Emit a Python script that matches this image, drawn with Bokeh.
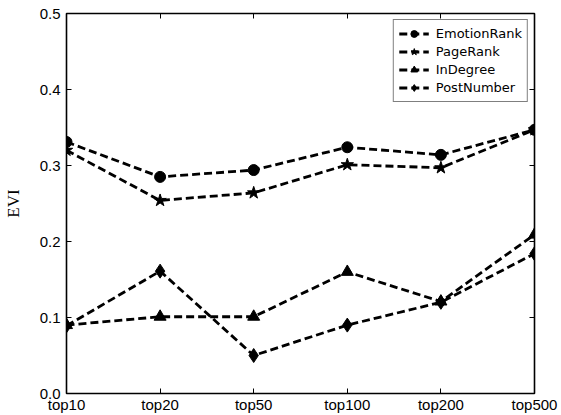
from bokeh.plotting import figure
from bokeh.models import Range1d, FixedTicker, LinearAxis, PrintfTickFormatter, Legend, LegendItem
from bokeh.embed import file_html
from bokeh.resources import INLINE

categories = ["top10", "top20", "top50", "top100", "top200", "top500"]
emotion_rank = [0.331, 0.285, 0.294, 0.324, 0.314, 0.347]
page_rank = [0.320, 0.254, 0.264, 0.301, 0.297, 0.347]
in_degree = [0.090, 0.101, 0.101, 0.160, 0.121, 0.209]
post_number = [0.089, 0.161, 0.050, 0.090, 0.120, 0.184]
y_ticks = [0.0, 0.1, 0.2, 0.3, 0.4, 0.5]

xs = list(range(len(categories)))

p = figure(width=561, height=415, output_backend="svg", toolbar_location=None,
           x_range=Range1d(0, len(categories) - 1), y_range=Range1d(0, 0.5),
           min_border_left=64, min_border_right=27, min_border_top=13, min_border_bottom=21,
           x_axis_location=None, y_axis_location=None)
p.grid.visible = False
p.outline_line_color = "black"
p.outline_line_width = 1.6
p.outline_line_alpha = 1.0
p.background_fill_color = "white"
p.border_fill_color = "white"

def make_axis(ticks, labels=True):
    ax = LinearAxis()
    ax.ticker = FixedTicker(ticks=ticks)
    ax.axis_line_color = None
    ax.major_tick_in = 5
    ax.major_tick_out = 0
    ax.minor_tick_line_color = None
    ax.major_tick_line_color = "black"
    ax.major_tick_line_width = 1
    if not labels:
        ax.major_label_overrides = {t: "" for t in ticks}
        ax.major_label_standoff = 0
        ax.major_label_text_font_size = "1px"
    return ax

xb = make_axis(xs)
xb.major_label_overrides = {i: c for i, c in enumerate(categories)}
xb.major_label_text_font = "Liberation Sans"
xb.major_label_text_font_size = "15px"
xb.major_label_text_color = "black"
xb.major_label_standoff = 2
p.add_layout(xb, "below")

xt = make_axis(xs, labels=False)
p.add_layout(xt, "above")

yl = make_axis(y_ticks)
yl.formatter = PrintfTickFormatter(format="%.1f")
yl.major_label_text_font = "Liberation Sans"
yl.major_label_text_font_size = "15px"
yl.major_label_text_color = "black"
yl.major_label_standoff = 6
yl.axis_label = "EVI"
yl.axis_label_text_font = "Liberation Serif"
yl.axis_label_text_font_size = "17px"
yl.axis_label_text_font_style = "normal"
yl.axis_label_text_color = "black"
yl.axis_label_standoff = 14
p.add_layout(yl, "left")

yr = make_axis(y_ticks, labels=False)
p.add_layout(yr, "right")

dash = "8 4"
lw = 2.8
series = [
    ("EmotionRank", emotion_rank, "circle", 11),
    ("PageRank", page_rank, "star", 13),
    ("InDegree", in_degree, "triangle", 12),
    ("PostNumber", post_number, "diamond", 14),
]
items = []
for name, vals, marker, size in series:
    r1 = p.line(xs, vals, line_color="black", line_width=lw, line_dash=dash)
    r2 = p.scatter(xs, vals, marker=marker, size=size, fill_color="black", line_color="black")
    items.append(LegendItem(label=name, renderers=[r1, r2]))

legend = Legend(items=items, location="top_right")
legend.label_text_font = "DejaVu Sans"
legend.label_text_font_size = "13px"
legend.label_text_color = "black"
legend.border_line_color = "black"
legend.border_line_width = 1.2
legend.glyph_width = 30
legend.glyph_height = 17
legend.label_height = 17
legend.spacing = 1
legend.padding = 5
legend.margin = 6
legend.label_standoff = 7
legend.background_fill_alpha = 1
p.add_layout(legend)

open("out.html", "w").write(file_html(p, INLINE))
